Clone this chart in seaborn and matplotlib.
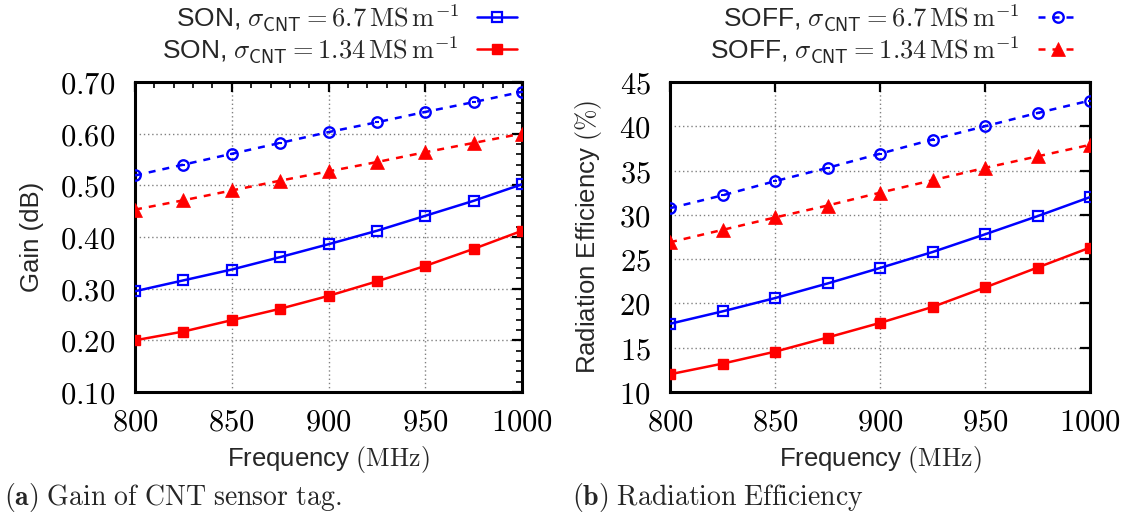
import numpy as np
import pandas as pd
import matplotlib
matplotlib.use("Agg")
import matplotlib.pyplot as plt
import seaborn as sns
from matplotlib.ticker import MultipleLocator, FuncFormatter

# ---------------- data ----------------
freq = [800, 825, 850, 875, 900, 925, 950, 975, 1000]

gain_son_67 = [0.295, 0.316, 0.337, 0.361, 0.386, 0.412, 0.441, 0.470, 0.502]
gain_son_134 = [0.200, 0.217, 0.239, 0.261, 0.286, 0.314, 0.344, 0.377, 0.412]
gain_soff_67 = [0.519, 0.540, 0.561, 0.582, 0.603, 0.622, 0.642, 0.661, 0.681]
gain_soff_134 = [0.453, 0.471, 0.490, 0.509, 0.527, 0.545, 0.564, 0.582, 0.600]

eff_son_67 = [17.7, 19.1, 20.6, 22.25, 24.0, 25.8, 27.8, 29.85, 32.0]
eff_son_134 = [12.0, 13.2, 14.55, 16.15, 17.8, 19.6, 21.8, 24.05, 26.3]
eff_soff_67 = [30.75, 32.2, 33.8, 35.3, 36.9, 38.5, 40.0, 41.5, 42.9]
eff_soff_134 = [26.9, 28.3, 29.7, 31.05, 32.5, 33.9, 35.3, 36.6, 37.9]

lbl_son_67 = r"SON, $\sigma_{\mathsf{CNT}} = 6.7\,\mathrm{MS\,m^{-1}}$"
lbl_son_134 = r"SON, $\sigma_{\mathsf{CNT}} = 1.34\,\mathrm{MS\,m^{-1}}$"
lbl_soff_67 = r"SOFF, $\sigma_{\mathsf{CNT}} = 6.7\,\mathrm{MS\,m^{-1}}$"
lbl_soff_134 = r"SOFF, $\sigma_{\mathsf{CNT}} = 1.34\,\mathrm{MS\,m^{-1}}$"

xlabel = r"Frequency $(\mathrm{MHz})$"
ylabel_a = "Gain (dB)"
ylabel_b = r"Radiation Efficiency $(\%)$"
caption_a = r"$\mathbf{(a)}$ $\mathrm{Gain\ of\ CNT\ sensor\ tag.}$"
caption_b = r"$\mathbf{(b)}$ $\mathrm{Radiation\ Efficiency}$"

# ---------------- style ----------------
sns.set_theme(style="white")
plt.rcParams["font.family"] = ["Liberation Sans", "DejaVu Sans"]
plt.rcParams["mathtext.fontset"] = "cm"

BLUE = "#0000ff"
RED = "#ff0000"
LW = 1.8
DASH = (0, (2.8, 2.8))

fig = plt.figure(figsize=(11.31, 5.2), dpi=100)
axA = fig.add_axes([0.1194, 0.2462, 0.3422, 0.5962])
axB = fig.add_axes([0.5924, 0.2462, 0.3714, 0.5962])


def draw(ax, son67, son134, soff67, soff134):
    df = pd.DataFrame({"f": freq, "a": son67, "b": son134, "c": soff67, "d": soff134})
    handles = {}
    sns.lineplot(data=df, x="f", y="a", ax=ax, color=BLUE, lw=LW, marker="s",
                 markersize=7.5, markerfacecolor="none", markeredgecolor=BLUE,
                 markeredgewidth=1.6, zorder=5)
    handles["son67"] = ax.lines[-1]
    sns.lineplot(data=df, x="f", y="b", ax=ax, color=RED, lw=LW, marker="s",
                 markersize=7.5, markerfacecolor=RED, markeredgecolor=RED,
                 markeredgewidth=1.0, zorder=5)
    handles["son134"] = ax.lines[-1]
    sns.lineplot(data=df, x="f", y="c", ax=ax, color=BLUE, lw=LW, linestyle=DASH,
                 marker="o", markersize=7.5, markerfacecolor="none",
                 markeredgecolor=BLUE, markeredgewidth=1.7, zorder=5)
    handles["soff67"] = ax.lines[-1]
    sns.lineplot(data=df, x="f", y="c", ax=ax, color=BLUE, lw=0, marker="_",
                 markersize=3.5, markerfacecolor=BLUE, markeredgecolor=BLUE,
                 markeredgewidth=1.5, zorder=6)
    sns.lineplot(data=df, x="f", y="d", ax=ax, color=RED, lw=LW, linestyle=DASH,
                 marker="^", markersize=9.5, markerfacecolor=RED,
                 markeredgecolor=RED, markeredgewidth=0.5, zorder=5)
    handles["soff134"] = ax.lines[-1]
    return handles


hA = draw(axA, gain_son_67, gain_son_134, gain_soff_67, gain_soff_134)
hB = draw(axB, eff_son_67, eff_son_134, eff_soff_67, eff_soff_134)

for ax in (axA, axB):
    ax.set_xlim(800, 1000)
    ax.xaxis.set_major_locator(MultipleLocator(50))
    ax.xaxis.set_major_formatter(FuncFormatter(lambda v, p: r"$%d$" % v))
    ax.set_xlabel(xlabel, fontsize=18.5, labelpad=5)
    ax.grid(True, which="major", color="#808080", linestyle=(0, (1, 2)), linewidth=1.0)
    for s in ax.spines.values():
        s.set_visible(True)
        s.set_color("black")
        s.set_linewidth(2.2)
    ax.tick_params(which="major", direction="in", length=7, width=1.6,
                   top=True, right=True, labelsize=22, pad=11, colors="black")
    ax.tick_params(which="minor", direction="in", length=4, width=1.4,
                   top=True, right=True)
    ax.set_axisbelow(True)

axA.set_ylim(0.10, 0.70)
axA.yaxis.set_major_locator(MultipleLocator(0.1))
axA.yaxis.set_minor_locator(MultipleLocator(0.02))
axA.xaxis.set_minor_locator(MultipleLocator(10))
axA.yaxis.set_major_formatter(FuncFormatter(lambda v, p: r"$%.2f$" % v))
axA.set_ylabel(ylabel_a, fontsize=18.5, labelpad=12)

axB.set_ylim(10, 45)
axB.yaxis.set_major_locator(MultipleLocator(5))
axB.yaxis.set_major_formatter(FuncFormatter(lambda v, p: r"$%d$" % v))
axB.set_ylabel(ylabel_b, fontsize=18.5, labelpad=11)

for ax in (axA, axB):
    ax.tick_params(axis="y", pad=14)

legA = axA.legend([hA["son67"], hA["son134"]], [lbl_son_67, lbl_son_134],
                  loc="upper right", bbox_to_anchor=(517 / 1131, 1 - 2 / 520),
                  bbox_transform=fig.transFigure, frameon=False, markerfirst=False,
                  fontsize=19, handlelength=1.5, handletextpad=0.7,
                  borderpad=0, borderaxespad=0, labelspacing=0.05, numpoints=1)
legB = axB.legend([hB["soff67"], hB["soff134"]], [lbl_soff_67, lbl_soff_134],
                  loc="upper right", bbox_to_anchor=(1078 / 1131, 1 - 2 / 520),
                  bbox_transform=fig.transFigure, frameon=False, markerfirst=False,
                  fontsize=19, handlelength=1.5, handletextpad=0.7,
                  borderpad=0, borderaxespad=0, labelspacing=0.05, numpoints=1)

fig.text(4 / 1131, 1 - 498 / 520, caption_a, fontsize=20, va="center", ha="left")
fig.text(572 / 1131, 1 - 498 / 520, caption_b, fontsize=20, va="center", ha="left")

fig.savefig("out.png", dpi=100)
